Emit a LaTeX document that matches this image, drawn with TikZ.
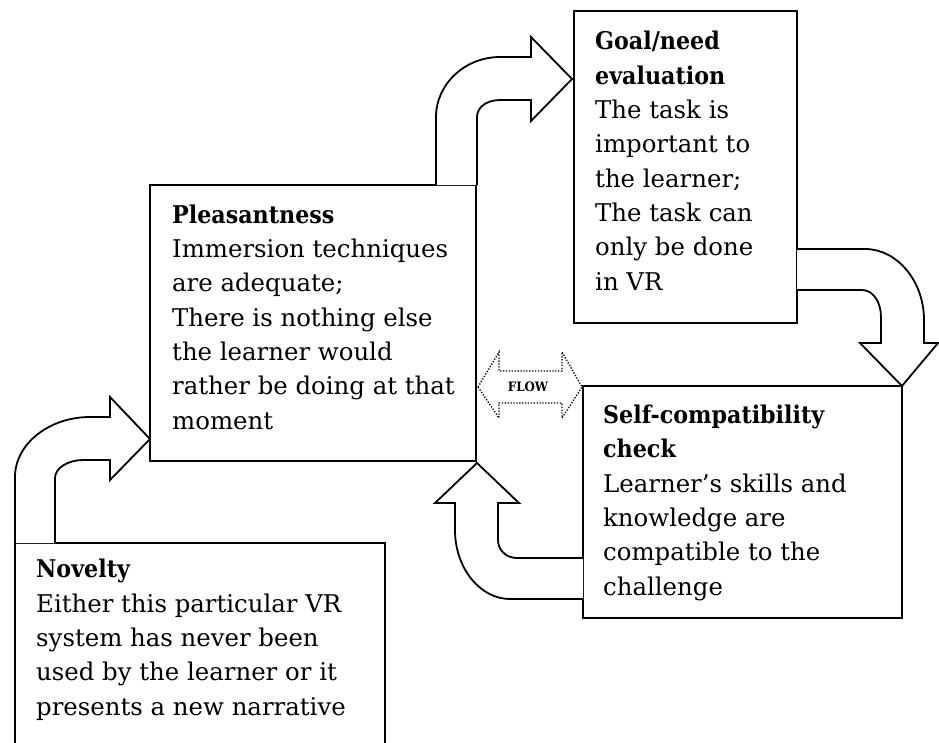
\documentclass[tikz,border=0pt]{standalone}
\usepackage{fontspec}
\setmainfont{DejaVu Serif}
\newfontfamily\headfont[FakeStretch=0.91]{DejaVu Serif}
\begin{document}
\begin{tikzpicture}[x=1pt,y=-1pt,
  box/.style={draw, line width=1.8pt, rectangle, anchor=north west, inner sep=0pt, outer sep=0pt},
  txt/.style={anchor=base west, align=left, inner sep=0pt, font=\fontsize{24.4}{34.3}\selectfont},
  blockarrow/.style={draw, line width=1.8pt, fill=white, line join=miter},
  flowarrow/.style={draw, line width=1.3pt, dash pattern=on 1.3pt off 1.6pt, fill=white}]
\useasboundingbox (0,0) rectangle (939,742);
\clip (0,0) rectangle (939,742);
% boxes
\node[box, minimum width=326pt, minimum height=276pt] (P) at (150,185) {};
\node[box, minimum width=223pt, minimum height=312pt] (G) at (574,11) {};
\node[box, minimum width=319pt, minimum height=232pt] (S) at (583,386) {};
\node[box, minimum width=370pt, minimum height=230pt] (N) at (15,543) {};
% block arrows
\draw[blockarrow] (15,543) -- (15,477) .. controls (15,444) and (49,417) .. (90,417) -- (110,417) -- (110,397) -- (150,439) -- (110,480) -- (110,460) -- (83,460) .. controls (68,460) and (55,468) .. (55,478) -- (55,543);
\draw[blockarrow] (436,185) -- (436,117) .. controls (436,84) and (465,57) .. (500,57) -- (531,57) -- (531,37) -- (572,79) -- (531,121) -- (531,100) -- (500,100) .. controls (487,100) and (477,107) .. (477,117) -- (477,185);
\draw[blockarrow] (797,249) -- (865,249) .. controls (897,249) and (924,281) .. (924,320) -- (924,343) -- (938,343) -- (902,386) -- (860,343) -- (881,343) -- (881,317) .. controls (881,302) and (873,290) .. (862,290) -- (797,290);
\draw[blockarrow] (583,599) -- (510,599) .. controls (480,599) and (455,568) .. (455,530) -- (455,503) -- (435,503) -- (477,463) -- (519,503) -- (498,503) -- (498,540) .. controls (498,550) and (506,558) .. (517,558) -- (583,558);
\draw[flowarrow] (478,387) -- (499,352) -- (499,371) -- (562,371) -- (562,352) -- (582,387) -- (562,418) -- (562,403) -- (499,403) -- (499,418) -- cycle;
\node[inner sep=0pt, font=\headfont\bfseries\fontsize{13}{13}\selectfont] (flow) at (528,387) {FLOW};
% texts (anchored at the baseline of the last line)
\node[txt] (Pt) at (172,429) {{\headfont\bfseries Pleasantness}\\Immersion techniques\\are adequate;\\There is nothing else\\the learner would\\rather be doing at that\\moment};
\node[txt] (Gt) at (595,290) {{\headfont\bfseries Goal/need}\\{\headfont\bfseries evaluation}\\The task is\\important to\\the learner;\\The task can\\only be done\\in VR};
\node[txt] (St) at (603,595) {{\headfont\bfseries Self-compatibility}\\{\headfont\bfseries check}\\Learner’s skills and\\knowledge are\\compatible to the\\challenge};
\node[txt] (Nt) at (36,715) {{\headfont\bfseries Novelty}\\Either this particular VR\\system has never been\\used by the learner or it\\presents a new narrative};
\end{tikzpicture}
\end{document}
